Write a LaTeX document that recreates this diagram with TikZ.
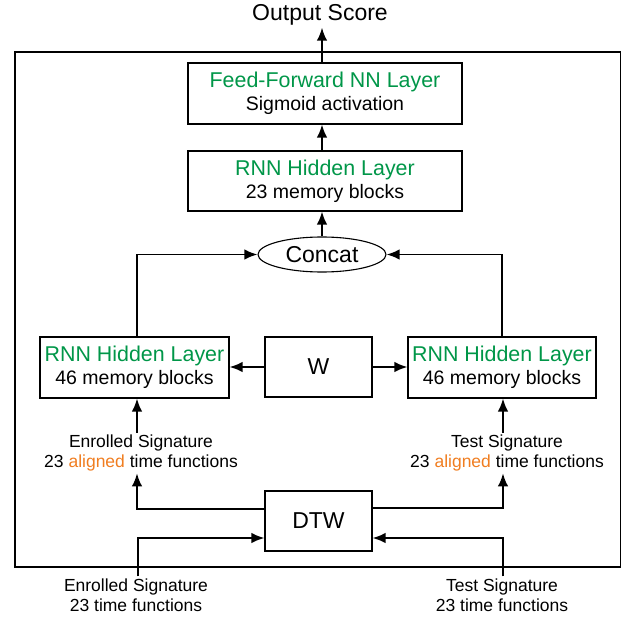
\documentclass[tikz,border=0pt]{standalone}
\usepackage{fontspec}
\setmainfont{Liberation Sans}
\usepackage{xcolor}
\usetikzlibrary{shapes.geometric,arrows.meta}

\definecolor{layergreen}{RGB}{0,150,72}
\definecolor{alignorange}{RGB}{240,125,32}
\newcommand{\layertitle}[1]{{\color{layergreen}\fontsize{21.4}{23}\selectfont #1}}

\tikzset{
  layerbox/.style={draw, line width=1.1pt, rectangle, align=center, inner sep=0pt,
    font=\fontsize{19.5}{23}\selectfont},
  opbox/.style={draw, line width=1.1pt, rectangle, inner sep=0pt,
    font=\fontsize{23}{26}\selectfont},
  siglabel/.style={align=center, inner sep=2pt, font=\fontsize{17.5}{20}\selectfont},
  flow/.style={->, line width=1.9pt}
}

\begin{document}
\begin{tikzpicture}[x=1pt, y=-1pt, >={Latex[length=13pt,width=10.5pt]}]
  \useasboundingbox (0,0) rectangle (622,618);
  \draw[line width=1.3pt] (15,52) rectangle (620.5,567);

  \node[inner sep=2pt, font=\fontsize{23}{26}\selectfont] (out) at (320,15) {Output Score};
  \node[layerbox, minimum width=274pt, minimum height=61pt] (ff) at (325,93.5)
    {\layertitle{Feed-Forward NN Layer}\\ Sigmoid activation};
  \node[layerbox, minimum width=274pt, minimum height=60pt] (rnntop) at (325,181)
    {\layertitle{RNN Hidden Layer}\\ 23 memory blocks};
  \node[ellipse, draw, line width=1.1pt, inner sep=0pt, minimum width=128pt,
    minimum height=35pt, font=\fontsize{23}{26}\selectfont] (concat) at (322,254.5) {Concat};

  \node[layerbox, minimum width=189pt, minimum height=61pt] (rnnL) at (134.5,367.5)
    {\layertitle{RNN Hidden Layer}\\ 46 memory blocks};
  \node[opbox, minimum width=107pt, minimum height=60pt] (W) at (318.5,367) {W};
  \node[layerbox, minimum width=188pt, minimum height=61pt] (rnnR) at (502,367.5)
    {\layertitle{RNN Hidden Layer}\\ 46 memory blocks};

  \node[siglabel] (alignL) at (141,453)
    {Enrolled Signature\\ 23 {\color{alignorange}aligned} time functions};
  \node[siglabel] (alignR) at (507,453)
    {Test Signature\\ 23 {\color{alignorange}aligned} time functions};
  \node[opbox, minimum width=107pt, minimum height=60pt] (dtw) at (318.5,521) {DTW};

  \node[siglabel] (encL) at (136,595) {Enrolled Signature\\ 23 time functions};
  \node[siglabel] (encR) at (502,595) {Test Signature\\ 23 time functions};

  % inputs into DTW
  \draw[flow] ([xshift=2pt]encL.north) |- ([yshift=-17pt]dtw.west);
  \draw[flow] ([xshift=1pt]encR.north) |- ([yshift=-17pt]dtw.east);
  % aligned outputs
  \draw[flow] ([yshift=12pt]dtw.west) -| ([xshift=-4pt]alignL.south);
  \draw[flow] ([yshift=13pt]dtw.east) -| ([xshift=-4pt]alignR.south);
  \draw[flow] ([xshift=-4pt]alignL.north) -- ([xshift=-4pt]alignL.north |- rnnL.south);
  \draw[flow] ([xshift=-4pt]alignR.north) -- ([xshift=-4pt]alignR.north |- rnnR.south);

  \draw[flow] (W.west) -- (rnnL.east |- W.west);
  \draw[flow] (W.east) -- (rnnR.west |- W.east);

  \draw[flow] ([xshift=2.5pt]rnnL.north) |- (concat.west);
  \draw[flow] (rnnR.north) |- (concat.east);

  \draw[flow] (concat.north) -- (concat.north |- rnntop.south);
  \draw[flow] (rnntop.north -| concat.north) -- (ff.south -| concat.north);
  \draw[flow] (ff.north -| concat.north) -- (out.south -| concat.north);
\end{tikzpicture}
\end{document}
